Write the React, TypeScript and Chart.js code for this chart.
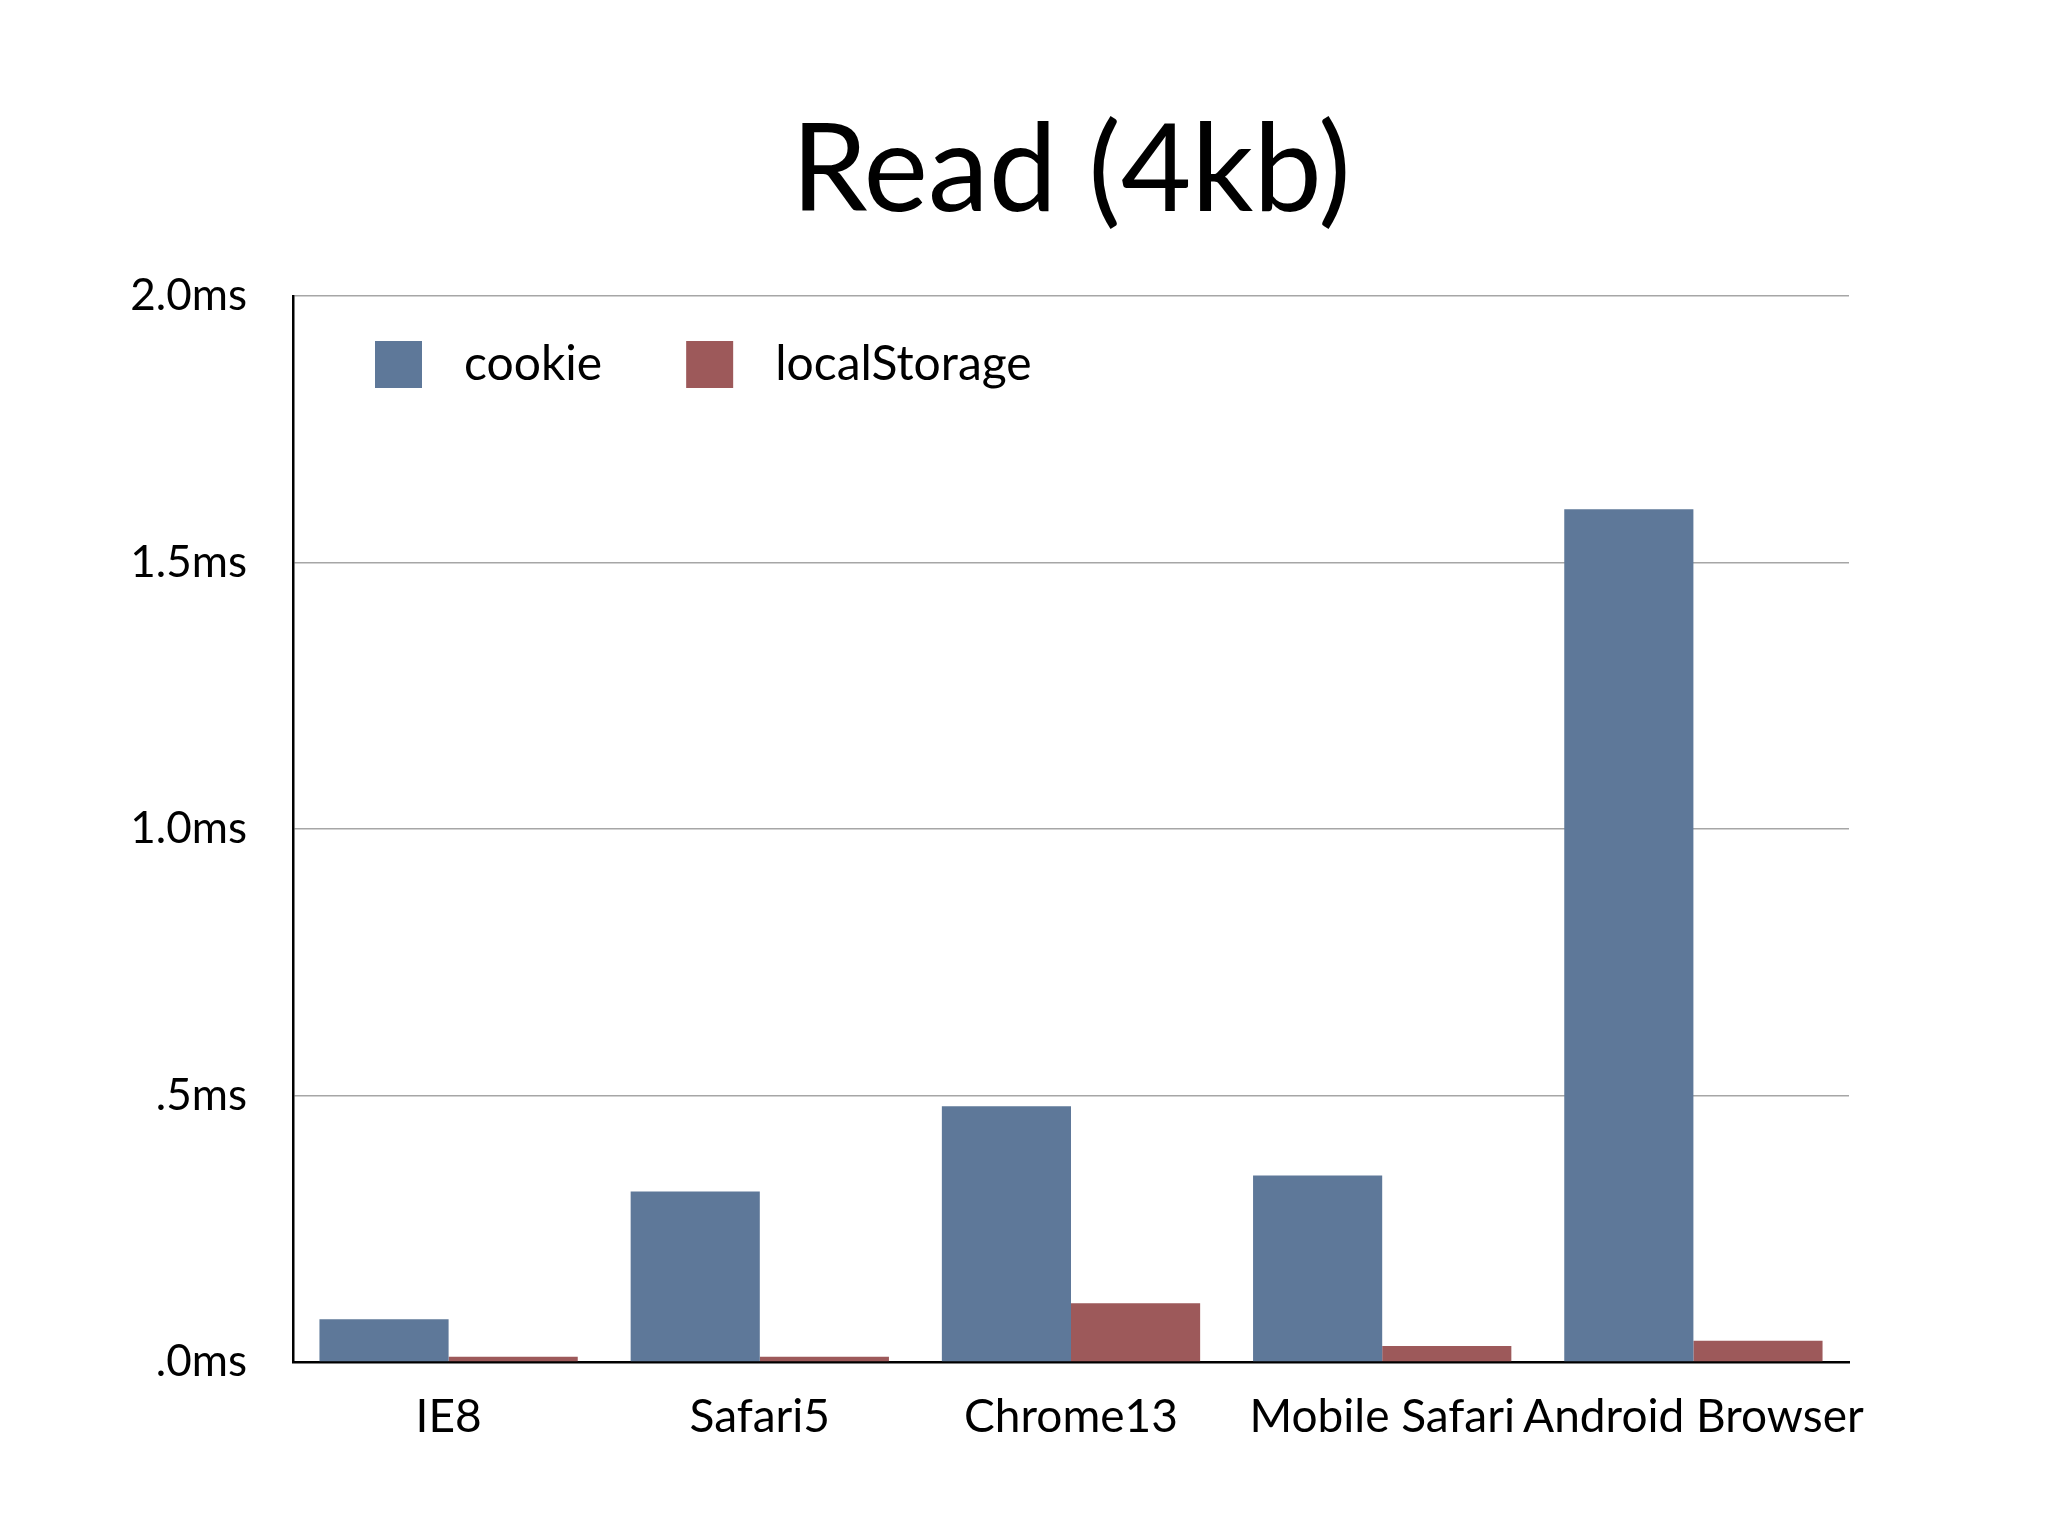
import { useEffect, useRef } from 'react';
import { Chart, registerables } from 'chart.js';

Chart.register(...registerables);

const titleText = 'Read (4kb)';
const categories = ['IE8', 'Safari5', 'Chrome13', 'Mobile Safari', 'Android Browser'];
const seriesNames = ['cookie', 'localStorage'];
const cookieValues = [0.08, 0.32, 0.48, 0.35, 1.6];
const localStorageValues = [0.01, 0.01, 0.11, 0.03, 0.04];
const yTickLabels = ['.0ms', '.5ms', '1.0ms', '1.5ms', '2.0ms'];

const FONT = 'Lato, "Open Sans", sans-serif';
const BLUE = '#5e7899';
const RED = '#9d595a';

// title centred over the plot area, legend drawn inside it (top-left)
const slidePlugin = {
  id: 'slide',
  afterDraw(chart: Chart) {
    const { ctx, chartArea } = chart;
    ctx.save();
    ctx.fillStyle = '#000';
    ctx.textAlign = 'center';
    ctx.textBaseline = 'alphabetic';
    ctx.font = `122px ${FONT}`;
    ctx.fillText(titleText, (chartArea.left + chartArea.right) / 2, 211);

    ctx.font = `48px ${FONT}`;
    ctx.textAlign = 'left';
    ctx.textBaseline = 'middle';
    let x = chartArea.left + 82;
    const y = chartArea.top + 45;
    const box = 47;
    chart.data.datasets.forEach((ds) => {
      ctx.fillStyle = ds.backgroundColor as string;
      ctx.fillRect(x, y, box, box);
      ctx.fillStyle = '#000';
      const label = ds.label ?? '';
      ctx.fillText(label, x + box + 42, y + box / 2);
      x += box + 42 + ctx.measureText(label).width + 84;
    });
    ctx.restore();
  },
};

export default function App() {
  const chartRef = useRef<HTMLCanvasElement>(null);
  const chartInstance = useRef<Chart | null>(null);

  useEffect(() => {
    document.body.style.margin = '0';
    if (!chartRef.current) return;
    if (chartInstance.current) chartInstance.current.destroy();
    const ctx = chartRef.current.getContext('2d');
    if (!ctx) return;

    chartInstance.current = new Chart(ctx, {
      type: 'bar',
      data: {
        labels: categories,
        datasets: [
          { label: seriesNames[0], data: cookieValues, backgroundColor: BLUE },
          { label: seriesNames[1], data: localStorageValues, backgroundColor: RED },
        ],
      },
      plugins: [slidePlugin],
      options: {
        responsive: false,
        devicePixelRatio: 1,
        animation: false,
        layout: { padding: { top: 296, right: 199, bottom: 0, left: 0 } },
        datasets: {
          bar: { categoryPercentage: 0.83, barPercentage: 1 },
        },
        plugins: {
          legend: { display: false },
          title: { display: false },
          tooltip: { enabled: false },
        },
        scales: {
          x: {
            grid: { display: false },
            border: { display: true, color: '#000', width: 2.5 },
            ticks: {
              color: '#000',
              padding: 20,
              maxRotation: 0,
              autoSkip: false,
              font: { family: FONT, size: 46 },
            },
            afterFit: (scale) => {
              scale.height = 174;
            },
          },
          y: {
            min: 0,
            max: 2,
            grid: { color: '#a6a6a6', lineWidth: 1.6, drawTicks: false },
            border: { display: true, color: '#000', width: 2.5 },
            ticks: {
              stepSize: 0.5,
              color: '#000',
              padding: 46,
              font: { family: FONT, size: 44 },
              callback: (_v, i) => yTickLabels[i],
            },
            afterFit: (scale) => {
              scale.width = 293;
            },
          },
        },
      },
    });

    return () => {
      if (chartInstance.current) {
        chartInstance.current.destroy();
        chartInstance.current = null;
      }
    };
  }, []);

  return (
    <div style={{ width: 2048, height: 1536, background: '#fff' }}>
      <canvas ref={chartRef} width={2048} height={1536} />
    </div>
  );
}
